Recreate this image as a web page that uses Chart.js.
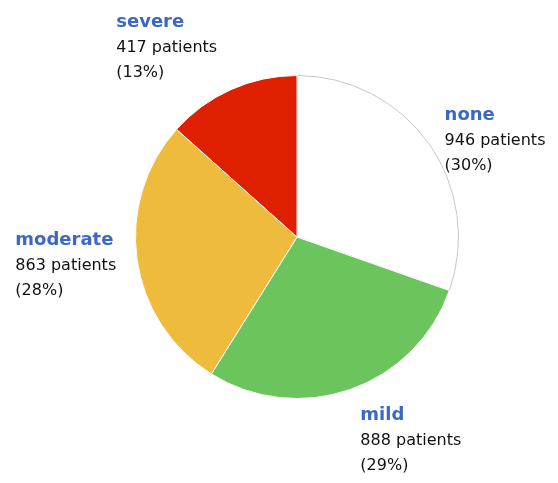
<!DOCTYPE html>
<html>
<head>
<meta charset="utf-8">
<script src="https://cdn.jsdelivr.net/npm/chart.js@4"></script>
<style>
html,body{margin:0;padding:0;background:#fff;}
#wrap{width:558px;height:483px;position:relative;}
</style>
</head>
<body>
<div id="wrap"><canvas id="c" width="558" height="483"></canvas></div>
<script>
const categories = ["none", "mild", "moderate", "severe"];
const patients = [946, 888, 863, 417];
const sliceColors = ["#ffffff", "#6cc55c", "#efbb3c", "#de1f00"];
const borderColors = ["#c8c8c8", "#ffffff", "#ffffff", "#ffffff"];

const total = patients.reduce((a, b) => a + b, 0);

const labelPlugin = {
  id: 'sliceLabels',
  afterDatasetsDraw(chart) {
    const ctx = chart.ctx;
    const meta = chart.getDatasetMeta(0);
    const boldFont = 'bold 18px "DejaVu Sans", sans-serif';
    const normFont = '16px "DejaVu Sans", sans-serif';
    const lineH = 25.5;
    meta.data.forEach((arc, i) => {
      const mid = (arc.startAngle + arc.endAngle) / 2;
      const dx = Math.cos(mid), dy = Math.sin(mid);
      const r = arc.outerRadius + 12;
      const px = arc.x + dx * r, py = arc.y + dy * r;
      const lines = [
        {t: categories[i], f: boldFont, c: '#3a68c4'},
        {t: patients[i] + ' patients', f: normFont, c: '#111'},
        {t: '(' + Math.round(patients[i] / total * 100) + '%)', f: normFont, c: '#111'}
      ];
      let w = 0;
      lines.forEach(l => { ctx.font = l.f; w = Math.max(w, ctx.measureText(l.t).width); });
      const h = lineH * 3;
      const left = dx >= 0 ? px + 6 : px - w - 9;
      const wv = Math.min(1, Math.max(0, (Math.abs(dy) - 0.6) / 0.3));
      const top = py - h / 2 + 4 + dy * h / 2 * wv;
      ctx.save();
      ctx.textAlign = 'left';
      ctx.textBaseline = 'middle';
      lines.forEach((l, k) => {
        ctx.font = l.f;
        ctx.fillStyle = l.c;
        ctx.fillText(l.t, left, top + lineH / 2 + k * lineH);
      });
      ctx.restore();
    });
  }
};

new Chart(document.getElementById('c'), {
  type: 'pie',
  data: {
    labels: categories,
    datasets: [{
      data: patients,
      backgroundColor: sliceColors,
      borderColor: borderColors,
      borderWidth: 1
    }]
  },
  options: {
    responsive: false,
    animation: false,
    layout: { padding: { left: 135, right: 99, top: 75, bottom: 84 } },
    plugins: { legend: { display: false }, tooltip: { enabled: false } }
  },
  plugins: [labelPlugin]
});
</script>
</body>
</html>
